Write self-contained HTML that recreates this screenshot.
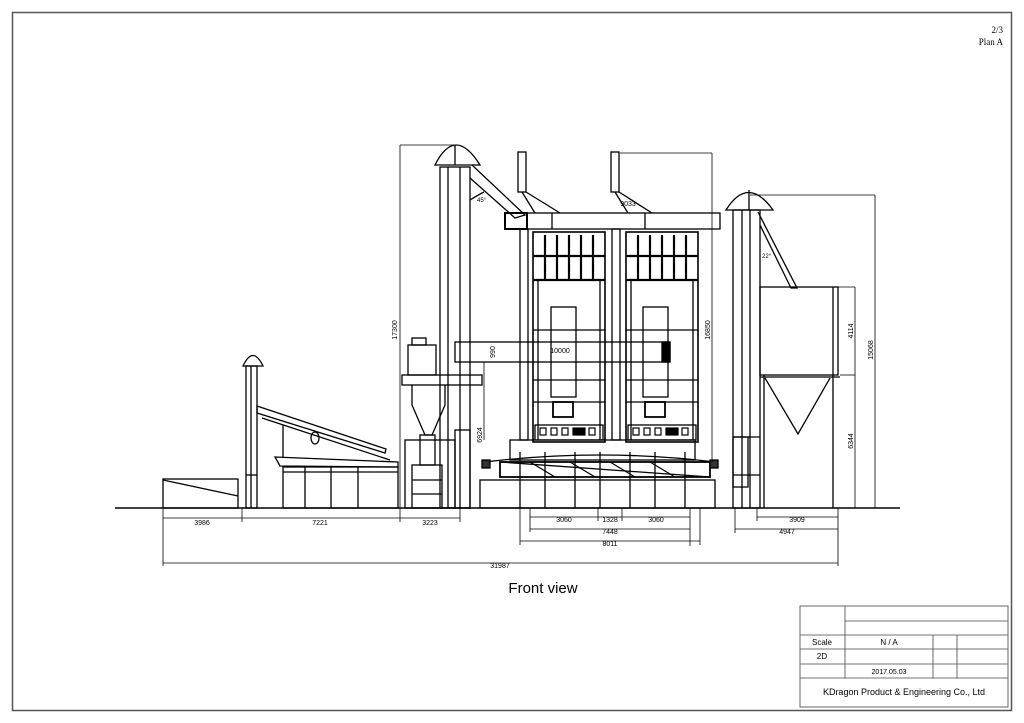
<!DOCTYPE html>
<html><head><meta charset="utf-8"><style>
html,body{margin:0;padding:0;background:#fff;}
svg{display:block}
text{font-family:"Liberation Sans",sans-serif;fill:#000}
</style></head><body>
<svg width="1024" height="723" viewBox="0 0 1024 723" xmlns="http://www.w3.org/2000/svg">
<rect x="0" y="0" width="1024" height="723" fill="#fff"/>
<rect x="12.5" y="12.5" width="999" height="698" fill="none" stroke="#555" stroke-width="1.5"/>
<text x="1003" y="33" font-size="9" text-anchor="end" style="font-family:'Liberation Serif'">2/3</text>
<text x="1003" y="45" font-size="9" text-anchor="end" style="font-family:'Liberation Serif'">Plan A</text>

<g stroke="#000" fill="none" stroke-width="1.3">
<line x1="115" y1="508" x2="900" y2="508" stroke-width="1.5"/>
<!-- left box -->
<rect x="163" y="479" width="75" height="29"/>
<line x1="163" y1="480" x2="238" y2="496"/>
<!-- left elevator -->
<rect x="246" y="366" width="11" height="142"/>
<line x1="251" y1="366" x2="251" y2="508"/>
<path d="M243 366 Q253 345 263 366 Z"/>
<line x1="246" y1="475" x2="257" y2="475"/>
<!-- left conveyor -->
<path d="M257 406 L386 449 L385 453 L257 413 Z"/>
<line x1="262" y1="418" x2="390" y2="460"/>
<ellipse cx="315" cy="438" rx="4" ry="6"/>
<line x1="283" y1="425" x2="283" y2="458"/>
<!-- shed -->
<path d="M275 457 L398 462 L398 467 L280 466 Z"/>
<rect x="283" y="467" width="115" height="41"/>
<line x1="305" y1="467" x2="305" y2="508"/><line x1="331" y1="467" x2="331" y2="508"/><line x1="358" y1="467" x2="358" y2="508"/>
<line x1="283" y1="472" x2="398" y2="472"/>
<!-- cyclone area -->
<rect x="405" y="440" width="50" height="68"/>
<rect x="412" y="465" width="30" height="43"/>
<line x1="412" y1="480" x2="442" y2="480"/><line x1="412" y1="494" x2="442" y2="494"/>
<rect x="402" y="375" width="80" height="10"/>
<rect x="408" y="345" width="28" height="30"/>
<rect x="412" y="338" width="14" height="7"/>
<path d="M412 385 L412 405 L425 435 L432 435 L445 405 L445 385"/>
<rect x="420" y="435" width="15" height="30"/>
<!-- tall elevator -->
<rect x="440" y="167" width="30" height="341"/>
<line x1="448" y1="167" x2="448" y2="508"/><line x1="460" y1="167" x2="460" y2="508"/>
<path d="M435 165 Q455 125 480 165 Z"/>
<line x1="455" y1="145" x2="455" y2="165"/>
<path d="M472 165 L525 215 L515 218 L470 178"/>
<path d="M470 200 Q478 195 484 192"/>
<rect x="455" y="430" width="15" height="78"/>
<!-- horizontal pipe -->
<rect x="455" y="342" width="215" height="20"/>
<rect x="662" y="342" width="8" height="20" fill="#000"/>
<!-- top beam -->
<rect x="505" y="213" width="215" height="16"/>
<line x1="552" y1="213" x2="552" y2="229"/><line x1="645" y1="213" x2="645" y2="229"/>
<rect x="505" y="213" width="22" height="16" stroke-width="2"/>
<!-- vertical motors -->
<rect x="518" y="152" width="8" height="40"/><rect x="611" y="152" width="8" height="40"/>
<line x1="526" y1="192" x2="560" y2="213"/><line x1="619" y1="192" x2="652" y2="213"/>
<line x1="522" y1="192" x2="535" y2="213"/><line x1="615" y1="192" x2="628" y2="213"/>
<!-- inner elevator legs -->
<rect x="520" y="229" width="8" height="211"/><rect x="612" y="229" width="8" height="211"/>
<!-- dryer towers -->
<rect x="533" y="232" width="72" height="210" stroke-width="1.6"/>
<rect x="626" y="232" width="72" height="210" stroke-width="1.6"/>
<line x1="533" y1="256" x2="605" y2="256" stroke-width="2.2"/><line x1="626" y1="256" x2="698" y2="256" stroke-width="2.2"/>
<line x1="533" y1="280" x2="605" y2="280" stroke-width="2.2"/><line x1="626" y1="280" x2="698" y2="280" stroke-width="2.2"/>
<g stroke-width="2.2">
<line x1="545" y1="235" x2="545" y2="280"/><line x1="557" y1="235" x2="557" y2="280"/><line x1="569" y1="235" x2="569" y2="280"/><line x1="581" y1="235" x2="581" y2="280"/><line x1="593" y1="235" x2="593" y2="280"/>
<line x1="638" y1="235" x2="638" y2="280"/><line x1="650" y1="235" x2="650" y2="280"/><line x1="662" y1="235" x2="662" y2="280"/><line x1="674" y1="235" x2="674" y2="280"/><line x1="686" y1="235" x2="686" y2="280"/>
</g>
<line x1="538" y1="280" x2="538" y2="440"/><line x1="600" y1="280" x2="600" y2="440"/>
<line x1="631" y1="280" x2="631" y2="440"/><line x1="693" y1="280" x2="693" y2="440"/>
<rect x="551" y="307" width="25" height="90"/><rect x="643" y="307" width="25" height="90"/>
<line x1="533" y1="330" x2="605" y2="330"/><line x1="626" y1="330" x2="698" y2="330"/>
<line x1="533" y1="380" x2="605" y2="380"/><line x1="626" y1="380" x2="698" y2="380"/>
<line x1="533" y1="402" x2="605" y2="402"/><line x1="626" y1="402" x2="698" y2="402"/>
<rect x="553" y="402" width="20" height="15" stroke-width="1.8"/><rect x="645" y="402" width="20" height="15" stroke-width="1.8"/>
<rect x="535" y="425" width="68" height="15"/><rect x="628" y="425" width="68" height="15"/>
<g stroke-width="1.2">
<rect x="540" y="428" width="6" height="7"/><rect x="551" y="428" width="6" height="7"/><rect x="562" y="428" width="6" height="7"/><rect x="573" y="428" width="12" height="7" fill="#000"/><rect x="589" y="428" width="6" height="7"/>
<rect x="633" y="428" width="6" height="7"/><rect x="644" y="428" width="6" height="7"/><rect x="655" y="428" width="6" height="7"/><rect x="666" y="428" width="12" height="7" fill="#000"/><rect x="682" y="428" width="6" height="7"/>
</g>
<!-- base -->
<rect x="510" y="440" width="185" height="20"/>
<path d="M485 462 Q600 448 715 462"/>
<rect x="500" y="462" width="210" height="15" stroke-width="1.8"/>
<line x1="500" y1="462" x2="710" y2="477"/>
<line x1="530" y1="462" x2="555" y2="477"/><line x1="570" y1="462" x2="595" y2="477"/><line x1="610" y1="462" x2="635" y2="477"/><line x1="650" y1="462" x2="675" y2="477"/>
<rect x="480" y="480" width="235" height="28"/>
<line x1="520" y1="452" x2="520" y2="508"/><line x1="545" y1="452" x2="545" y2="508"/><line x1="575" y1="452" x2="575" y2="508"/><line x1="600" y1="452" x2="600" y2="508"/><line x1="630" y1="452" x2="630" y2="508"/><line x1="655" y1="452" x2="655" y2="508"/><line x1="685" y1="452" x2="685" y2="508"/>
<rect x="482" y="460" width="8" height="8" fill="#333"/><rect x="710" y="460" width="8" height="8" fill="#333"/>
<!-- right elevator -->
<rect x="733" y="210" width="27" height="298"/>
<line x1="742" y1="210" x2="742" y2="508"/><line x1="750" y1="210" x2="750" y2="508"/>
<path d="M726 210 Q748 175 773 210 Z"/>
<line x1="749" y1="190" x2="749" y2="210"/>
<path d="M758 212 L797 288 L791 288 L760 225"/>
<rect x="733" y="437" width="15" height="50"/>
<line x1="733" y1="437" x2="760" y2="437"/><line x1="733" y1="475" x2="760" y2="475"/>
<!-- silo -->
<rect x="760" y="287" width="78" height="88"/>
<line x1="833" y1="287" x2="833" y2="508"/><line x1="764" y1="375" x2="764" y2="508"/>
<line x1="760" y1="377" x2="840" y2="377"/>
<path d="M765 378 L798 434 L830 378"/>
</g>

<!-- dimension lines -->
<g stroke="#000" stroke-width="0.8" fill="none">
<line x1="400" y1="145" x2="400" y2="508"/><line x1="400" y1="145" x2="455" y2="145"/>
<line x1="712" y1="153" x2="712" y2="462"/><line x1="620" y1="153" x2="712" y2="153"/>
<line x1="875" y1="195" x2="875" y2="508"/><line x1="750" y1="195" x2="875" y2="195"/>
<line x1="855" y1="287" x2="855" y2="508"/><line x1="838" y1="287" x2="855" y2="287"/><line x1="840" y1="375" x2="855" y2="375"/>
<line x1="484" y1="362" x2="484" y2="440"/>
<line x1="163" y1="518" x2="460" y2="518"/>
<line x1="163" y1="508" x2="163" y2="566"/><line x1="242" y1="508" x2="242" y2="522"/><line x1="400" y1="508" x2="400" y2="522"/><line x1="460" y1="508" x2="460" y2="522"/>
<line x1="530" y1="517" x2="690" y2="517"/><line x1="530" y1="508" x2="530" y2="532"/><line x1="598" y1="508" x2="598" y2="521"/><line x1="622" y1="508" x2="622" y2="521"/><line x1="690" y1="508" x2="690" y2="546"/>
<line x1="530" y1="529" x2="690" y2="529"/>
<line x1="520" y1="541" x2="700" y2="541"/><line x1="520" y1="508" x2="520" y2="545"/><line x1="700" y1="508" x2="700" y2="545"/>
<line x1="163" y1="563" x2="838" y2="563"/>
<line x1="757" y1="517" x2="838" y2="517"/><line x1="757" y1="508" x2="757" y2="521"/><line x1="838" y1="508" x2="838" y2="566"/>
<line x1="735" y1="529" x2="838" y2="529"/><line x1="735" y1="508" x2="735" y2="533"/>
</g>
<g font-size="7" stroke="none">
<text x="202" y="525" text-anchor="middle">3986</text>
<text x="320" y="525" text-anchor="middle">7221</text>
<text x="430" y="525" text-anchor="middle">3223</text>
<text x="564" y="522" text-anchor="middle">3060</text>
<text x="610" y="522" text-anchor="middle">1328</text>
<text x="656" y="522" text-anchor="middle">3060</text>
<text x="610" y="534" text-anchor="middle">7448</text>
<text x="610" y="546" text-anchor="middle">8011</text>
<text x="500" y="568" text-anchor="middle">31987</text>
<text x="797" y="522" text-anchor="middle">3909</text>
<text x="787" y="534" text-anchor="middle">4947</text>
<text x="560" y="353" text-anchor="middle">10000</text>
<text x="628" y="206" text-anchor="middle">9033</text>
<text x="477" y="202" font-size="6">45°</text>
<text x="762" y="258" font-size="6">22°</text>
<text transform="translate(397,330) rotate(-90)" text-anchor="middle">17300</text>
<text transform="translate(710,330) rotate(-90)" text-anchor="middle">16850</text>
<text transform="translate(873,350) rotate(-90)" text-anchor="middle">15068</text>
<text transform="translate(853,331) rotate(-90)" text-anchor="middle">4114</text>
<text transform="translate(853,441) rotate(-90)" text-anchor="middle">6344</text>
<text transform="translate(482,435) rotate(-90)" text-anchor="middle">6924</text>
<text transform="translate(495,352) rotate(-90)" text-anchor="middle">990</text>
</g>
<text x="543" y="593" font-size="15" text-anchor="middle">Front view</text>

<!-- title block -->
<g stroke="#444" stroke-width="0.8" fill="none">
<rect x="800" y="606" width="208" height="101"/>
<line x1="845" y1="606" x2="845" y2="678"/>
<line x1="845" y1="621" x2="1008" y2="621"/>
<line x1="800" y1="635" x2="1008" y2="635"/>
<line x1="800" y1="649" x2="1008" y2="649"/>
<line x1="800" y1="664" x2="1008" y2="664"/>
<line x1="800" y1="678" x2="1008" y2="678"/>
<line x1="933" y1="635" x2="933" y2="678"/>
<line x1="957" y1="635" x2="957" y2="678"/>
</g>
<g font-size="8" stroke="none">
<text x="822" y="645" text-anchor="middle">Scale</text>
<text x="889" y="645" text-anchor="middle">N / A</text>
<text x="822" y="659" text-anchor="middle">2D</text>
<text x="889" y="674" text-anchor="middle" font-size="7">2017.05.03</text>
<text x="904" y="695" text-anchor="middle" font-size="9">KDragon Product &amp; Engineering Co., Ltd</text>
</g>
</svg>
</body></html>
